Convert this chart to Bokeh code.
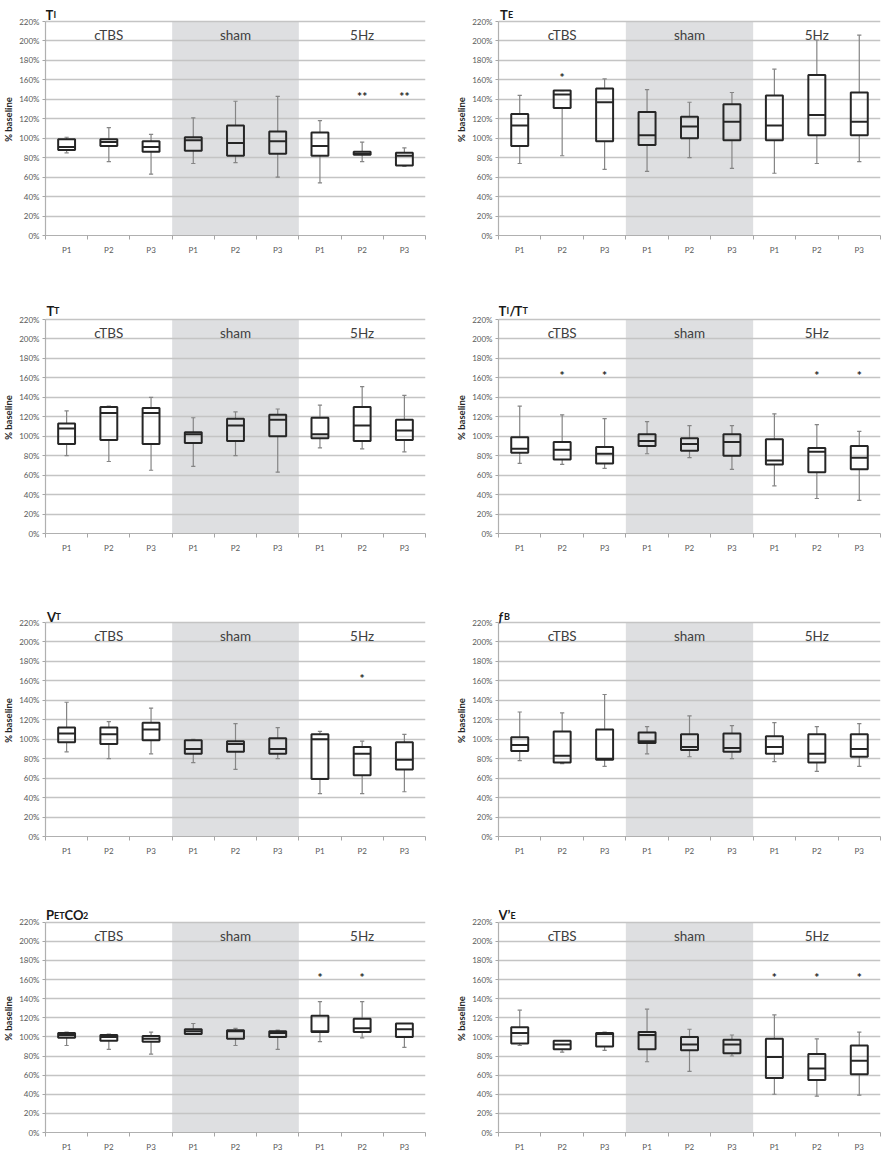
from bokeh.plotting import figure
from bokeh.models import FixedTicker, BoxAnnotation, Label, Range1d, ColumnDataSource
from bokeh.layouts import column, row
from bokeh.core.properties import value
from bokeh.embed import file_html
from bokeh.resources import INLINE

FONT = "Lato"
groups = ["cTBS", "sham", "5Hz"]
phases = ["P1", "P2", "P3"]
y_ticks = [0, 20, 40, 60, 80, 100, 120, 140, 160, 180, 200, 220]

# ---- data: 9 boxes per panel (cTBS P1-P3, sham P1-P3, 5Hz P1-P3), % baseline ----
ti_low = [85, 76, 63, 74, 75, 60, 54, 76, 71]
ti_q1 = [88, 92, 86, 87, 82, 84, 82, 83, 72]
ti_med = [91, 96, 91, 98, 95, 97, 92, 84, 82]
ti_q3 = [99, 99, 97, 101, 113, 107, 106, 86, 85]
ti_high = [101, 111, 104, 121, 138, 143, 118, 96, 90]
ti_stars = ["", "", "", "", "", "", "", "**", "**"]

te_low = [74, 82, 68, 66, 80, 69, 64, 74, 76]
te_q1 = [92, 131, 97, 93, 100, 98, 98, 103, 103]
te_med = [113, 145, 137, 103, 112, 117, 113, 124, 117]
te_q3 = [125, 149, 151, 127, 122, 135, 144, 165, 147]
te_high = [144, 149, 161, 150, 137, 147, 171, 201, 206]
te_stars = ["", "*", "", "", "", "", "", "", ""]

tt_low = [80, 74, 65, 69, 80, 63, 88, 87, 84]
tt_q1 = [92, 96, 92, 93, 95, 100, 98, 95, 96]
tt_med = [108, 124, 124, 102, 111, 117, 102, 111, 106]
tt_q3 = [113, 130, 129, 104, 118, 122, 119, 130, 117]
tt_high = [126, 131, 140, 119, 125, 128, 132, 151, 142]
tt_stars = ["", "", "", "", "", "", "", "", ""]

titt_low = [72, 71, 67, 82, 78, 66, 49, 36, 34]
titt_q1 = [83, 76, 72, 90, 85, 80, 71, 63, 66]
titt_med = [87, 86, 82, 95, 92, 94, 75, 84, 78]
titt_q3 = [99, 94, 89, 102, 98, 102, 97, 88, 90]
titt_high = [131, 122, 118, 115, 111, 111, 123, 112, 105]
titt_stars = ["", "*", "*", "", "", "", "", "*", "*"]

vt_low = [87, 80, 85, 76, 69, 80, 44, 44, 46]
vt_q1 = [97, 95, 99, 85, 87, 85, 59, 63, 69]
vt_med = [106, 105, 110, 90, 95, 90, 100, 85, 79]
vt_q3 = [112, 112, 117, 99, 98, 101, 105, 92, 97]
vt_high = [138, 118, 132, 100, 116, 112, 108, 98, 105]
vt_stars = ["", "", "", "", "", "", "", "*", ""]

fb_low = [78, 75, 72, 85, 82, 80, 77, 67, 72]
fb_q1 = [88, 76, 79, 96, 89, 87, 85, 76, 82]
fb_med = [94, 83, 80, 98, 92, 91, 92, 85, 90]
fb_q3 = [102, 108, 110, 107, 105, 106, 103, 105, 105]
fb_high = [128, 127, 146, 113, 124, 114, 117, 113, 116]
fb_stars = ["", "", "", "", "", "", "", "", ""]

pet_low = [91, 87, 82, 103, 91, 87, 95, 99, 89]
pet_q1 = [99, 96, 95, 103, 98, 100, 105, 105, 100]
pet_med = [102, 100, 98, 106, 106, 104, 106, 109, 108]
pet_q3 = [104, 102, 101, 108, 107, 106, 122, 119, 114]
pet_high = [105, 103, 105, 114, 109, 107, 137, 137, 114]
pet_stars = ["", "", "", "", "", "", "*", "*", ""]

ve_low = [91, 84, 86, 74, 64, 80, 40, 38, 39]
ve_q1 = [93, 87, 90, 87, 86, 83, 57, 55, 61]
ve_med = [104, 92, 103, 102, 92, 92, 79, 67, 75]
ve_q3 = [110, 96, 104, 105, 100, 97, 98, 82, 91]
ve_high = [128, 96, 105, 129, 108, 102, 123, 98, 105]
ve_stars = ["", "", "", "", "", "", "*", "*", "*"]

# ---- styling ----
BOX_COLOR = "#262626"
WHISK_COLOR = "#858585"
GRID_COLOR = "#c4c4c4"
TICK_COLOR = "#595959"
SHADE = "#dedfe1"

xs = list(range(1, 10))
PH = 214      # px from 0% to 220%
EXTRA = 18    # px of frame above 220% (room for the title)
Y_TOP = 220 * (PH + EXTRA) / PH


def make_panel(title_parts, low, q1, med, q3, high, stars, star_y,
               width, height, bl, br, bt, bb, title_off):
    p = figure(width=width, height=height, x_range=Range1d(0.5, 9.5),
               y_range=Range1d(0, Y_TOP), output_backend="svg",
               toolbar_location=None, min_border_left=bl, min_border_right=br,
               min_border_top=bt, min_border_bottom=bb)
    p.outline_line_color = None
    p.background_fill_color = "white"
    p.border_fill_color = "white"

    shade = BoxAnnotation(left=3.5, right=6.5, bottom=0, top=220,
                          fill_color=SHADE, fill_alpha=1.0, line_color=None,
                          level="image")
    p.add_layout(shade)

    # grid
    p.xgrid.visible = False
    p.ygrid.ticker = FixedTicker(ticks=y_ticks)
    p.ygrid.grid_line_color = GRID_COLOR
    p.ygrid.grid_line_width = 1.5

    # y axis
    ya = p.yaxis[0]
    ya.ticker = FixedTicker(ticks=y_ticks)
    ya.bounds = (0, 220)
    ya.major_label_overrides = {t: f"{t}%" for t in y_ticks}
    ya.major_label_text_font = FONT
    ya.major_label_text_font_size = "8px"
    ya.major_label_text_color = TICK_COLOR
    ya.major_tick_out = 3
    ya.major_tick_in = 0
    ya.major_tick_line_color = "#a6a6a6"
    ya.minor_tick_line_color = None
    ya.axis_line_color = "#b0b0b0"
    ya.axis_line_width = 1.2
    ya.major_label_standoff = 3
    ya.axis_label = "% baseline"
    ya.axis_label_text_font = FONT
    ya.axis_label_text_font_style = "bold"
    ya.axis_label_text_font_size = "9.5px"
    ya.axis_label_text_color = "#262626"
    ya.axis_label_standoff = 2

    # x axis
    xa = p.xaxis[0]
    xa.ticker = FixedTicker(ticks=xs, minor_ticks=[0.5 + i for i in range(10)])
    xa.major_label_overrides = {x: phases[(x - 1) % 3] for x in xs}
    xa.major_label_text_font = FONT
    xa.major_label_text_font_size = "8px"
    xa.major_label_text_color = TICK_COLOR
    xa.major_tick_line_color = None
    xa.major_tick_out = 3
    xa.major_tick_in = 0
    xa.minor_tick_line_color = "#a6a6a6"
    xa.minor_tick_out = 4
    xa.minor_tick_in = 0
    xa.axis_line_color = "#b0b0b0"
    xa.axis_line_width = 1.2
    xa.major_label_standoff = 5

    # group labels
    for i, g in enumerate(groups):
        p.add_layout(Label(x=2 + 3 * i, y=206, text=g, text_align="center",
                           text_baseline="middle", text_font=FONT,
                           text_font_size="13.5px", text_color="#404040"))

    # whiskers
    hw = 0.05
    bw = 0.2
    src = ColumnDataSource(dict(x=xs, low=low, q1=q1, med=med, q3=q3, high=high,
                                xl=[x - bw for x in xs], xr=[x + bw for x in xs],
                                cl=[x - hw for x in xs], cr=[x + hw for x in xs]))
    p.segment(x0="x", y0="q3", x1="x", y1="high", source=src,
              line_color=WHISK_COLOR, line_width=1.2)
    p.segment(x0="x", y0="q1", x1="x", y1="low", source=src,
              line_color=WHISK_COLOR, line_width=1.2)
    p.segment(x0="cl", y0="high", x1="cr", y1="high", source=src,
              line_color=WHISK_COLOR, line_width=1.2)
    p.segment(x0="cl", y0="low", x1="cr", y1="low", source=src,
              line_color=WHISK_COLOR, line_width=1.2)
    # boxes
    p.quad(left="xl", right="xr", bottom="q1", top="q3", source=src,
           fill_color=None, line_color=BOX_COLOR, line_width=2)
    p.segment(x0="xl", y0="med", x1="xr", y1="med", source=src,
              line_color=BOX_COLOR, line_width=2)

    # significance stars
    sx = [x for x, s in zip(xs, stars) if s]
    st = [s for s in stars if s]
    if sx:
        p.text(x=sx, y=[star_y] * len(sx), text=st, text_align="center",
               text_baseline="middle", text_font=value(FONT),
               text_font_size="12px", text_font_style="bold",
               text_color="#262626")

    # title (main letters + small-cap subscripts), drawn inside the frame top
    for txt, size, dx, style in title_parts:
        p.text(x=[0.5], y=[220], text=[txt], x_offset=dx, y_offset=-title_off,
               text_font=value(FONT), text_font_size=f"{size}px",
               text_font_style=style, text_baseline="alphabetic",
               text_align="left", text_color="#1a1a1a")
    return p


LW, RW = 440, 443
LB, LR = 43, 15
RB, RR = 58, 3
# (figure height, min_border_top, min_border_bottom, title offset)
rows_spec = [(298, 3, 63, 7), (292, 3, 57, 9), (298, 14, 52, 6), (266, 16, 18, 7)]

M, S = 13, 9
panels = [
    ([("T", M, 0, "bold"), ("I", S, 8, "bold")],
     ti_low, ti_q1, ti_med, ti_q3, ti_high, ti_stars, 143),
    ([("T", M, 1.5, "bold"), ("E", S, 9.5, "bold")],
     te_low, te_q1, te_med, te_q3, te_high, te_stars, 162),
    ([("T", M, 1, "bold"), ("T", S, 8.5, "bold")],
     tt_low, tt_q1, tt_med, tt_q3, tt_high, tt_stars, 162),
    ([("T", M, 0, "bold"), ("I", S, 8, "bold"), ("/", M, 11, "bold"),
      ("T", M, 16, "bold"), ("T", S, 24, "bold")],
     titt_low, titt_q1, titt_med, titt_q3, titt_high, titt_stars, 162),
    ([("V", M, 1.5, "bold"), ("T", S, 10, "bold")],
     vt_low, vt_q1, vt_med, vt_q3, vt_high, vt_stars, 162),
    ([("f", M, 0, "bold italic"), ("B", S, 5.5, "bold")],
     fb_low, fb_q1, fb_med, fb_q3, fb_high, fb_stars, 162),
    ([("P", M, 0.5, "bold"), ("ET", S, 8.5, "bold"), ("CO", M, 19, "bold"),
      ("2", S, 37.5, "bold")],
     pet_low, pet_q1, pet_med, pet_q3, pet_high, pet_stars, 162),
    ([("V\u2019", M, 0, "bold"), ("E", S, 12, "bold")],
     ve_low, ve_q1, ve_med, ve_q3, ve_high, ve_stars, 162),
]

figs = []
for i, spec in enumerate(panels):
    h, t, b, off = rows_spec[i // 2]
    if i % 2 == 0:
        fig = make_panel(*spec, width=LW, height=h, bl=LB, br=LR, bt=t, bb=b,
                         title_off=off)
    else:
        fig = make_panel(*spec, width=RW, height=h, bl=RB, br=RR, bt=t, bb=b,
                         title_off=off)
    figs.append(fig)

layout = column(row(figs[0], figs[1]), row(figs[2], figs[3]),
                row(figs[4], figs[5]), row(figs[6], figs[7]))

open("out.html", "w").write(file_html(layout, INLINE))
